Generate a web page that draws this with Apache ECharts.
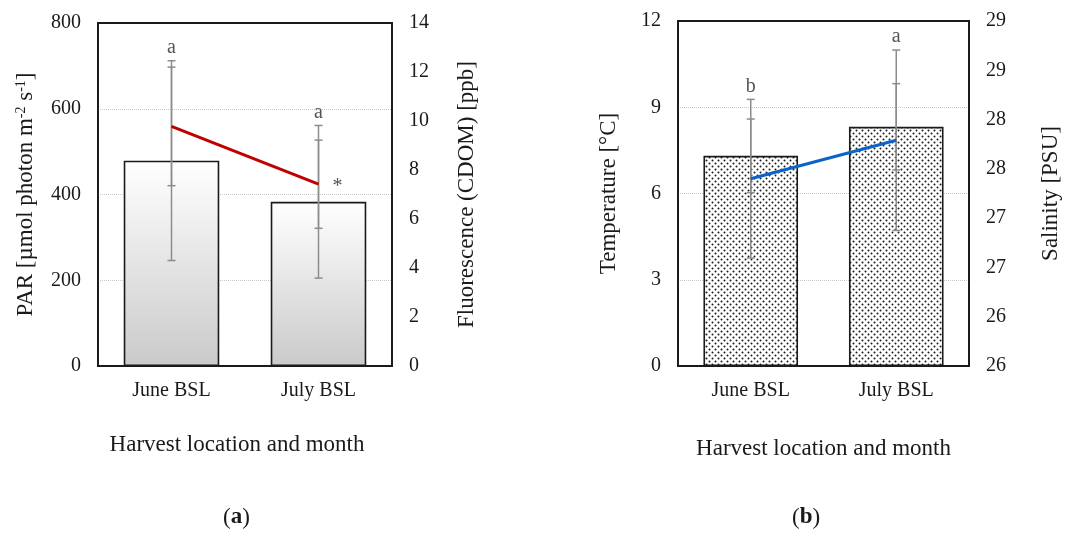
<!DOCTYPE html>
<html>
<head>
<meta charset="utf-8">
<script src="https://cdn.jsdelivr.net/npm/echarts@6/dist/echarts.min.js"></script>
<style>
  html, body { margin: 0; padding: 0; background: #fff; }
  #main { width: 1069px; height: 537px; }
</style>
</head>
<body>
<div id="main"></div>
<script>
// data
var categories = ['June BSL', 'July BSL'];
// panel (a)
var parMean = [479, 383];
var parErr = [233, 178];
var cdomMean = [9.78, 7.42];
var cdomErr = [2.42, 1.8];
var lettersA = ['a', 'a'];
var cdomMarks = ['', '*'];
// panel (b)
var tempMean = [7.31, 8.32];
var tempErr = [1.28, 1.5];
var salMean = [27.90, 28.29];
var salErr = [0.805, 0.915];
var lettersB = ['b', 'a'];
var salTickLabels = ['26', '26', '27', '27', '28', '28', '29', '29'];

var FONT = "'Liberation Serif', 'Times New Roman', serif";
var TXT = '#1a1a1a';

// dotted fill for panel (b)
function dotPattern() {
    var c = document.createElement('canvas');
    c.width = 6;
    c.height = 6;
    var ctx = c.getContext('2d');
    ctx.fillStyle = '#fff';
    ctx.fillRect(0, 0, 6, 6);
    ctx.fillStyle = '#1a1a1a';
    ctx.beginPath();
    ctx.arc(1.5, 1.5, 1.0, 0, Math.PI * 2);
    ctx.arc(4.5, 4.5, 1.0, 0, Math.PI * 2);
    ctx.fill();
    return c;
}

function errData(mean, err) {
    var res = [];
    for (var i = 0; i < mean.length; i++) {
        res.push([i, mean[i] - err[i], mean[i] + err[i], mean[i]]);
    }
    return res;
}

// error bar renderer, letters above the top cap, marks right of the mean
function errorItem(letters, marks) {
    return function (params, api) {
        var lo = api.coord([api.value(0), api.value(1)]);
        var hi = api.coord([api.value(0), api.value(2)]);
        var mid = api.coord([api.value(0), api.value(3)]);
        var x = lo[0];
        var st = { stroke: '#8c8c8c', lineWidth: 1.5 };
        var children = [
            { type: 'line', shape: { x1: x, y1: lo[1], x2: x, y2: hi[1] }, style: st },
            { type: 'line', shape: { x1: x - 4, y1: lo[1], x2: x + 4, y2: lo[1] }, style: st },
            { type: 'line', shape: { x1: x - 4, y1: hi[1], x2: x + 4, y2: hi[1] }, style: st }
        ];
        if (letters && letters[params.dataIndex]) {
            children.push({
                type: 'text',
                style: {
                    x: x, y: hi[1] - 3, text: letters[params.dataIndex],
                    fill: '#555', font: '20px ' + FONT,
                    textAlign: 'center', textVerticalAlign: 'bottom'
                }
            });
        }
        if (marks && marks[params.dataIndex]) {
            children.push({
                type: 'text',
                style: {
                    x: mid[0] + 19, y: mid[1] + 3, text: marks[params.dataIndex],
                    fill: '#555', font: '20px ' + FONT,
                    textAlign: 'center', textVerticalAlign: 'middle'
                }
            });
        }
        return { type: 'group', children: children };
    };
}

function valueAxis(gridIndex, min, max, interval, name, nameGap, position, split) {
    return {
        type: 'value',
        gridIndex: gridIndex,
        position: position,
        min: min,
        max: max,
        interval: interval,
        name: name,
        nameLocation: 'middle',
        nameGap: nameGap,
        nameRotate: 90,
        nameTextStyle: {
            color: TXT, fontFamily: FONT, fontSize: 23,
            rich: {
                sup: { fontSize: 14, fontFamily: FONT, color: TXT, verticalAlign: 'top', lineHeight: 24 },
                n: { fontSize: 23, fontFamily: FONT, color: TXT, lineHeight: 24 }
            }
        },
        axisLine: { show: true, lineStyle: { color: '#1a1a1a', width: 1.8 } },
        axisTick: { show: false },
        axisLabel: { color: TXT, fontFamily: FONT, fontSize: 20, margin: 17 },
        splitLine: split ? {
            show: true, showMinLine: false, showMaxLine: false,
            lineStyle: { color: '#c8c8c8', type: 'dotted', width: 1 }
        } : { show: false }
    };
}

function catAxis(gridIndex, nameGap, pad) {
    return {
        type: 'category',
        gridIndex: gridIndex,
        data: categories,
        name: 'Harvest location and month',
        nameLocation: 'middle',
        nameGap: nameGap,
        nameTextStyle: { color: TXT, fontFamily: FONT, fontSize: 23, padding: pad },
        axisLine: { show: true, lineStyle: { color: '#1a1a1a', width: 1.8 } },
        axisTick: { show: false },
        axisLabel: { color: TXT, fontFamily: FONT, fontSize: 20, margin: 15 }
    };
}

var myChart = echarts.init(document.getElementById('main'));
var option = {
    animation: false,
    backgroundColor: '#fff',
    grid: [
        { left: 98, top: 23, width: 294, height: 343, show: true, borderColor: '#1a1a1a', borderWidth: 1.8, backgroundColor: 'transparent' },
        { left: 678, top: 21, width: 291, height: 345, show: true, borderColor: '#1a1a1a', borderWidth: 1.8, backgroundColor: 'transparent' }
    ],
    xAxis: [
        catAxis(0, 67, [0, 16, 0, 0]),
        catAxis(1, 71, [0, 0, 0, 0])
    ],
    yAxis: [
        valueAxis(0, 0, 800, 200, '{n|PAR [µmol photon m}{sup|-2}{n| s}{sup|-1}{n|]}', 60, 'left', true),
        valueAxis(0, 0, 14, 2, 'Fluorescence (CDOM) [ppb]', 63, 'right', false),
        valueAxis(1, 0, 12, 3, 'Temperature [°C]', 58, 'left', true),
        (function () {
            var ax = valueAxis(1, 26, 29.5, 0.5, 'Salinity [PSU]', 70, 'right', false);
            ax.axisLabel.formatter = function (v) {
                return salTickLabels[Math.round((v - 26) / 0.5)];
            };
            return ax;
        })()
    ],
    graphic: [
        {
            type: 'text', left: 223, top: 506,
            style: { text: '({b|a})', font: '23px ' + FONT, fill: TXT,
                rich: { b: { fontWeight: 'bold', fontSize: 23, fontFamily: FONT, fill: TXT } } }
        },
        {
            type: 'text', left: 792, top: 506,
            style: { text: '({b|b})', font: '23px ' + FONT, fill: TXT,
                rich: { b: { fontWeight: 'bold', fontSize: 23, fontFamily: FONT, fill: TXT } } }
        }
    ],
    series: [
        {
            name: 'PAR',
            type: 'bar',
            xAxisIndex: 0,
            yAxisIndex: 0,
            barWidth: '65%',
            itemStyle: {
                color: new echarts.graphic.LinearGradient(0, 0, 0, 1, [
                    { offset: 0, color: '#ffffff' },
                    { offset: 1, color: '#cacaca' }
                ]),
                borderColor: '#1a1a1a',
                borderWidth: 1.6
            },
            data: parMean
        },
        {
            name: 'PAR err',
            type: 'custom',
            xAxisIndex: 0,
            yAxisIndex: 0,
            z: 3,
            renderItem: errorItem(lettersA, null),
            data: errData(parMean, parErr)
        },
        {
            name: 'CDOM err',
            type: 'custom',
            xAxisIndex: 0,
            yAxisIndex: 1,
            z: 3,
            renderItem: errorItem(null, cdomMarks),
            data: errData(cdomMean, cdomErr)
        },
        {
            name: 'CDOM',
            type: 'line',
            xAxisIndex: 0,
            yAxisIndex: 1,
            z: 4,
            symbol: 'none',
            lineStyle: { color: '#c00000', width: 3 },
            data: cdomMean
        },
        {
            name: 'Temperature',
            type: 'bar',
            xAxisIndex: 1,
            yAxisIndex: 2,
            barWidth: '65%',
            itemStyle: {
                color: { image: dotPattern(), repeat: 'repeat' },
                borderColor: '#1a1a1a',
                borderWidth: 1.6
            },
            data: tempMean
        },
        {
            name: 'Temp err',
            type: 'custom',
            xAxisIndex: 1,
            yAxisIndex: 2,
            z: 3,
            renderItem: errorItem(null, null),
            data: errData(tempMean, tempErr)
        },
        {
            name: 'Sal err',
            type: 'custom',
            xAxisIndex: 1,
            yAxisIndex: 3,
            z: 3,
            renderItem: errorItem(lettersB, null),
            data: errData(salMean, salErr)
        },
        {
            name: 'Salinity',
            type: 'line',
            xAxisIndex: 1,
            yAxisIndex: 3,
            z: 4,
            symbol: 'none',
            lineStyle: { color: '#0a64c8', width: 3 },
            data: salMean
        }
    ]
};
myChart.setOption(option);
</script>
</body>
</html>
